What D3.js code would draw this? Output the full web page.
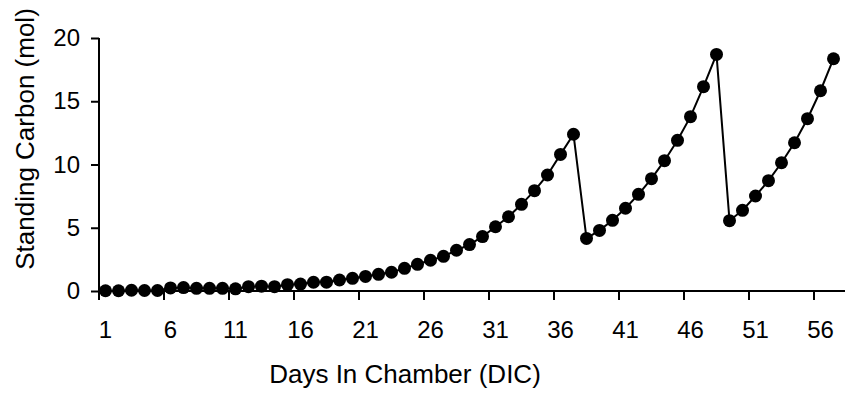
<!DOCTYPE html>
<html>
<head>
<meta charset="utf-8">
<script src="https://cdn.jsdelivr.net/npm/d3@7"></script>
<style>
  html, body { margin: 0; padding: 0; background: #fff; }
  svg { display: block; font-family: Arial, "Liberation Sans", sans-serif; }
</style>
</head>
<body>
<div id="chart"></div>
<script>
// days in chamber (categories)
const days = [1, 2, 3, 4, 5, 6, 7, 8, 9, 10, 11, 12, 13, 14, 15, 16, 17, 18, 19, 20,
  21, 22, 23, 24, 25, 26, 27, 28, 29, 30, 31, 32, 33, 34, 35, 36, 37, 38, 39, 40,
  41, 42, 43, 44, 45, 46, 47, 48, 49, 50, 51, 52, 53, 54, 55, 56, 57];

// standing carbon (mol)
const carbon = [0.02, 0.02, 0.06, 0.04, 0.04, 0.24, 0.27, 0.21, 0.21, 0.21,
  0.17, 0.34, 0.38, 0.34, 0.5, 0.55, 0.69, 0.7, 0.87, 1.0,
  1.15, 1.32, 1.48, 1.79, 2.11, 2.43, 2.74, 3.22, 3.67, 4.3,
  5.08, 5.87, 6.85, 7.93, 9.17, 10.8, 12.39, 4.16, 4.79, 5.59,
  6.54, 7.64, 8.88, 10.3, 11.91, 13.78, 16.15, 18.7, 5.56, 6.38,
  7.51, 8.72, 10.14, 11.72, 13.62, 15.83, 18.36];

const xTickDays = [1, 6, 11, 16, 21, 26, 31, 36, 41, 46, 51, 56];
const yTicks = [0, 5, 10, 15, 20];

const W = 845, H = 395;
const plotLeft = 99, plotTop = 38, plotBottom = 291;
const catCount = 58; // axis runs one category past the last point

const svg = d3.select('#chart').append('svg').attr('width', W).attr('height', H);

const x = d3.scaleBand().domain(d3.range(1, catCount + 1)).range([plotLeft, plotLeft + catCount * 13]).padding(0);
const y = d3.scaleLinear().domain([0, 20]).range([plotBottom, plotTop]);
const cx = d => x(d) + x.bandwidth() / 2;

// y axis
const yAxis = d3.axisLeft(y).tickValues(yTicks).tickSize(8).tickPadding(11).tickFormat(d3.format('d'));
const gy = svg.append('g').attr('transform', `translate(${plotLeft},0)`).call(yAxis);
gy.select('.domain').attr('stroke', '#000').attr('stroke-width', 2).attr('d', `M0,${plotTop}V${plotBottom}`);
gy.selectAll('.tick line').attr('stroke', '#000').attr('stroke-width', 2);
gy.selectAll('.tick text').attr('font-size', '24px').attr('fill', '#000').attr('font-family', 'Arial, "Liberation Sans", sans-serif');

// x axis: ticks sit between categories, labels centred on them
const gx = svg.append('g');
gx.append('line').attr('x1', plotLeft).attr('x2', W).attr('y1', plotBottom).attr('y2', plotBottom)
  .attr('stroke', '#000').attr('stroke-width', 2);
gx.selectAll('line.tick').data(xTickDays).join('line').attr('class', 'tick')
  .attr('x1', d => x(d)).attr('x2', d => x(d)).attr('y1', plotBottom).attr('y2', plotBottom + 9)
  .attr('stroke', '#000').attr('stroke-width', 2);
gx.selectAll('text').data(xTickDays).join('text')
  .attr('x', d => cx(d)).attr('y', 338).attr('text-anchor', 'middle')
  .attr('font-size', '24px').attr('fill', '#000').text(d => d);

// series
const pts = days.map((d, i) => ({ day: d, v: carbon[i] }));
const line = d3.line().x(d => cx(d.day)).y(d => y(d.v));
svg.append('path').datum(pts).attr('d', line).attr('fill', 'none').attr('stroke', '#000').attr('stroke-width', 2);
svg.append('g').selectAll('circle').data(pts).join('circle')
  .attr('cx', d => cx(d.day)).attr('cy', d => y(d.v)).attr('r', 6.5).attr('fill', '#000');

// titles
svg.append('text').attr('x', 405).attr('y', 383).attr('text-anchor', 'middle')
  .attr('font-size', '26px').attr('fill', '#000').text('Days In Chamber (DIC)');
svg.append('text').attr('transform', 'translate(34,139) rotate(-90)').attr('text-anchor', 'middle')
  .attr('font-size', '26px').attr('fill', '#000').text('Standing Carbon (mol)');
</script>
</body>
</html>
